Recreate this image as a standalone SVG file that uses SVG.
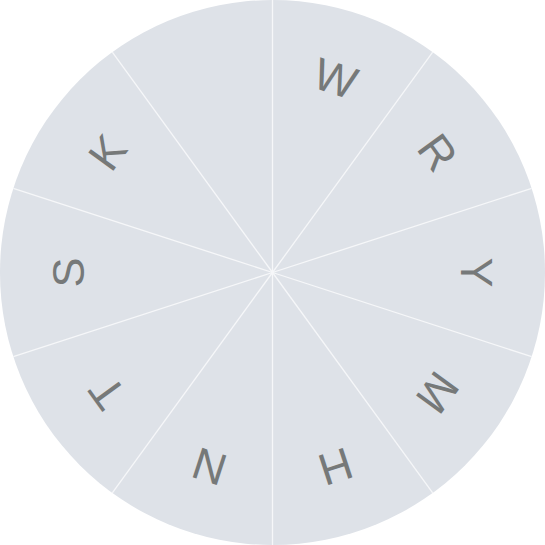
<svg xmlns="http://www.w3.org/2000/svg" width="545" height="545" viewBox="0 0 545 545">
<style>
.l{font-family:"Liberation Sans",Arial,sans-serif;font-size:45px;fill:#767979;text-anchor:middle;dominant-baseline:central}
.c line{stroke:#f6f7f9;stroke-width:1.3}
</style>
<rect width="545" height="545" fill="#ffffff"/>
<circle id="wheel" cx="272.5" cy="272.5" r="272.5" fill="#dee2e8"/>
<g class="c" id="connectors" transform="translate(272.5 272.5)">
<line x1="0" y1="0" x2="0" y2="-272.5" transform="rotate(0)"/>
<line x1="0" y1="0" x2="0" y2="-272.5" transform="rotate(36)"/>
<line x1="0" y1="0" x2="0" y2="-272.5" transform="rotate(72)"/>
<line x1="0" y1="0" x2="0" y2="-272.5" transform="rotate(108)"/>
<line x1="0" y1="0" x2="0" y2="-272.5" transform="rotate(144)"/>
<line x1="0" y1="0" x2="0" y2="-272.5" transform="rotate(180)"/>
<line x1="0" y1="0" x2="0" y2="-272.5" transform="rotate(216)"/>
<line x1="0" y1="0" x2="0" y2="-272.5" transform="rotate(252)"/>
<line x1="0" y1="0" x2="0" y2="-272.5" transform="rotate(288)"/>
<line x1="0" y1="0" x2="0" y2="-272.5" transform="rotate(324)"/>
</g>
<g transform="translate(272.5 272.5)">
<g id="sW" transform="rotate(18)"><text class="l" x="0" y="-204">W</text></g>
<g id="sR" transform="rotate(54)"><text class="l" x="0" y="-204">R</text></g>
<g id="sY" transform="rotate(90)"><text class="l" x="0" y="-204">Y</text></g>
<g id="sM" transform="rotate(126)"><text class="l" x="0" y="-204">M</text></g>
<g id="sH" transform="rotate(162)"><text class="l" x="0" y="-204">H</text></g>
<g id="sN" transform="rotate(198)"><text class="l" x="0" y="-204">N</text></g>
<g id="sT" transform="rotate(234)"><text class="l" x="0" y="-204">T</text></g>
<g id="sS" transform="rotate(270)"><text class="l" x="0" y="-204">S</text></g>
<g id="sK" transform="rotate(306)"><text class="l" x="0" y="-204">K</text></g>
</g>
</svg>
